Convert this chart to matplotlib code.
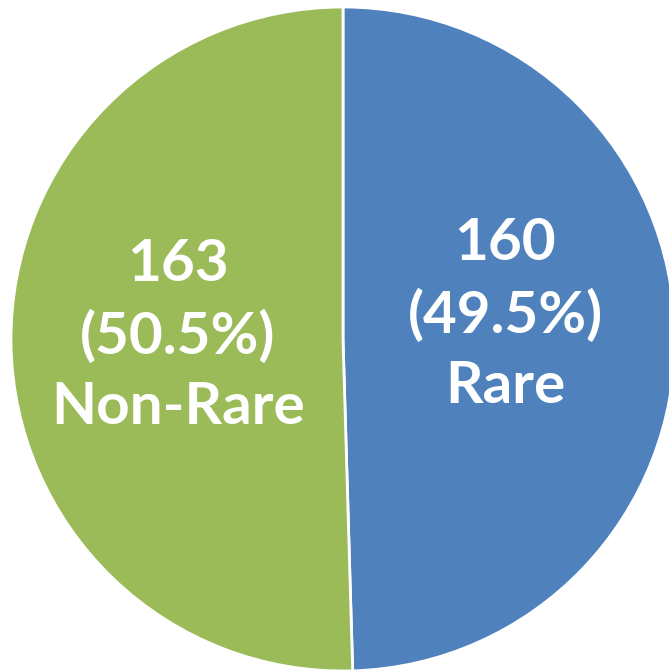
import matplotlib.pyplot as plt

labels = ['Rare', 'Non-Rare']
counts = [160, 163]
colors = ['#4F81BD', '#9BBB59']

total = sum(counts)

fig = plt.figure(figsize=(6.69, 6.70), dpi=100)
ax = fig.add_axes([0, 0, 1, 1])

wedges, _ = ax.pie(counts, colors=colors, startangle=90, counterclock=False,
                   center=(343, 331), radius=332, frame=True,
                   wedgeprops=dict(edgecolor='white', linewidth=2))
ax.set_xlim(0, 669)
ax.set_ylim(0, 670)
ax.set_aspect('equal')
ax.axis('off')

# label centres, in pixel units of the axes
label_pos = [(505, 355), (178, 334)]
for (x, y), n, lab in zip(label_pos, counts, labels):
    ax.text(x, y, f'{n}\n({n / total * 100:.1f}%)\n{lab}', ha='center', va='center',
            color='white', fontsize=42, fontweight='bold', family='Lato',
            linespacing=1.42)

fig.savefig('out.png', dpi=100)
